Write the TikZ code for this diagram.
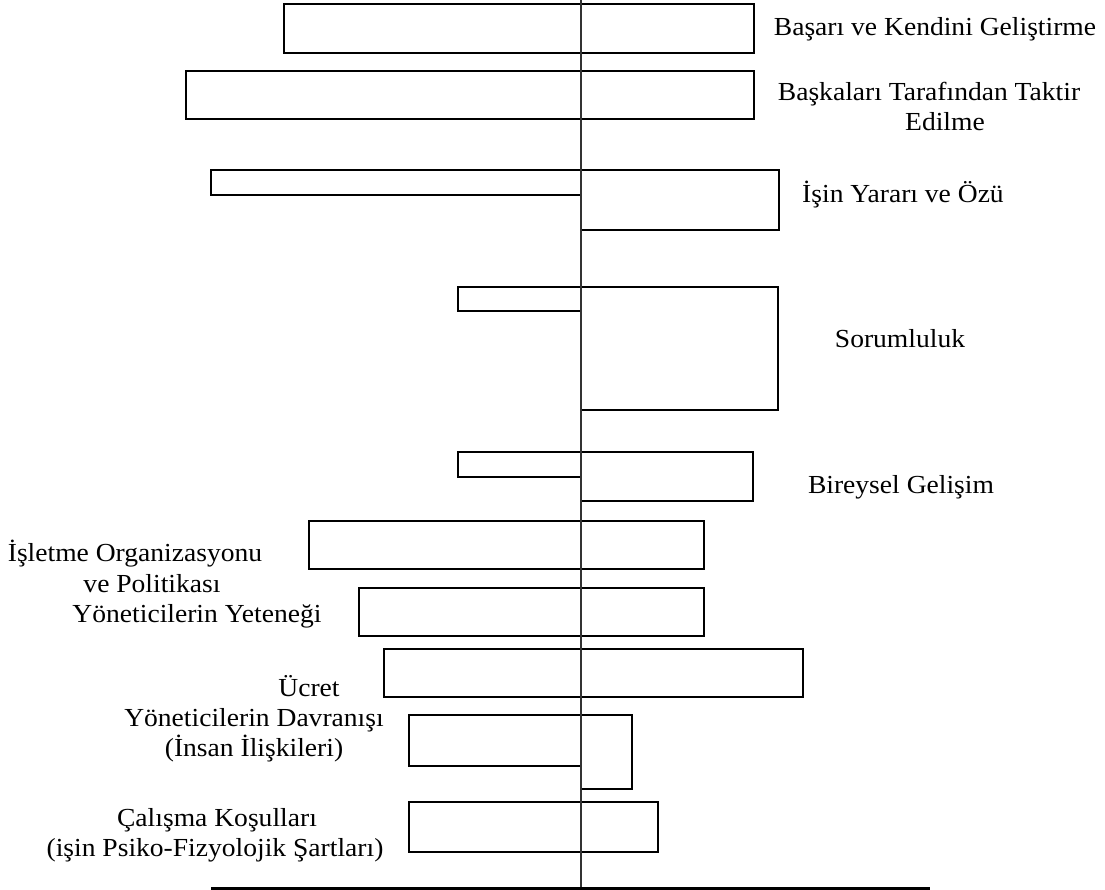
\documentclass[tikz,border=0pt]{standalone}
\usepackage{fontspec}
\newfontfamily\lblfont[FakeStretch=1.06]{Liberation Serif}
\begin{document}
\begin{tikzpicture}[x=1pt,y=-1pt,
  bar/.style={draw=black,line width=2.7pt,line join=miter},
  axisline/.style={draw=black!80,line width=1.3pt},
  baseline/.style={draw=black,line width=3.5pt},
  lbl/.style={font=\lblfont\fontsize{26}{30}\selectfont,inner sep=0pt,anchor=base}]
\useasboundingbox[fill=white] (0,0) rectangle (1105,890);
% bars
\draw[bar] (284,4) rectangle (754,53);
\draw[bar] (186,71) rectangle (754,119);
\draw[bar] (211,170) -- (779,170) -- (779,230) -- (581,230) -- (581,195) -- (211,195) -- cycle;
\draw[bar] (458,287) -- (778,287) -- (778,410) -- (581,410) -- (581,311) -- (458,311) -- cycle;
\draw[bar] (458,452) -- (753,452) -- (753,501) -- (581,501) -- (581,477) -- (458,477) -- cycle;
\draw[bar] (309,521) rectangle (704,569);
\draw[bar] (359,588) rectangle (704,636);
\draw[bar] (384,649) rectangle (803,697);
\draw[bar] (409,715) -- (632,715) -- (632,789) -- (581,789) -- (581,766) -- (409,766) -- cycle;
\draw[bar] (409,802) rectangle (658,852);
% axis
\coordinate (axtop) at (581,0);
\coordinate (axbot) at (581,890);
\draw[axisline] (axtop) -- (axbot);
\coordinate (bl) at (211,888.5);
\coordinate (br) at (930,888.5);
\draw[baseline] (bl) -- (br);
% labels right
\node[lbl] (l1) at (935,36) {Başarı ve Kendini Geliştirme};
\node[lbl] (l2a) at (929,101) {Başkaları Tarafından Taktir};
\node[lbl] (l2b) at (945,131) {Edilme};
\node[lbl] (l3) at (903,203) {İşin Yararı ve Özü};
\node[lbl] (l4) at (900,348) {Sorumluluk};
\node[lbl] (l5) at (901,493) {Bireysel Gelişim};
% labels left
\node[lbl] (l6a) at (135,561) {İşletme Organizasyonu};
\node[lbl] (l6b) at (152,592) {ve Politikası};
\node[lbl] (l7) at (197,622) {Yöneticilerin Yeteneği};
\node[lbl] (l8) at (309,696) {Ücret};
\node[lbl] (l9a) at (254,726) {Yöneticilerin Davranışı};
\node[lbl] (l9b) at (254,756) {(İnsan İlişkileri)};
\node[lbl] (l10a) at (217,826) {Çalışma Koşulları};
\node[lbl] (l10b) at (215,856) {(işin Psiko-Fizyolojik Şartları)};
\end{tikzpicture}
\end{document}
